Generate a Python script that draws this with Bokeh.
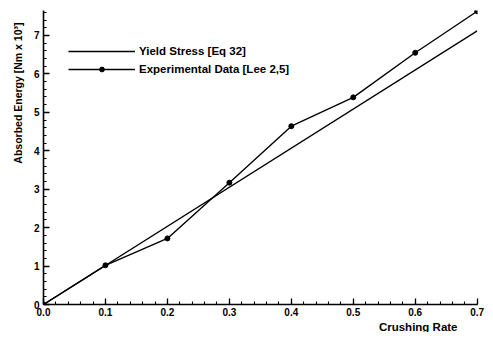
from bokeh.plotting import figure
from bokeh.models import SingleIntervalTicker, Title, Legend, LegendItem
from bokeh.embed import file_html
from bokeh.resources import INLINE

crush_rate = [0.0, 0.1, 0.2, 0.3, 0.4, 0.5, 0.6, 0.7]
exp_energy = [0.0, 1.02, 1.72, 3.17, 4.64, 5.39, 6.55, 7.63]
yield_rate = [0.0, 0.7]
yield_energy = [0.0, 7.12]

FONT = "Liberation Sans"

p = figure(width=485, height=332, output_backend="svg", toolbar_location=None,
           x_range=(0, 0.7005), y_range=(0, 7.65),
           min_border_left=43, min_border_right=8, min_border_top=10, min_border_bottom=24)
p.outline_line_color = None
p.xgrid.visible = False
p.ygrid.visible = False

r_yield = p.line(yield_rate, yield_energy, line_color="black", line_width=1.3)
r_exp = p.line(crush_rate, exp_energy, line_color="black", line_width=1.4)
r_pts = p.scatter(crush_rate, exp_energy, size=5, fill_color="black", line_color="black")

for ax in (p.xaxis[0], p.yaxis[0]):
    ax.axis_line_width = 1.6
    ax.axis_line_color = "black"
    ax.major_tick_in = 6
    ax.major_tick_out = 0
    ax.minor_tick_in = 3
    ax.minor_tick_out = 0
    ax.major_tick_line_color = "black"
    ax.minor_tick_line_color = "black"
    ax.major_tick_line_width = 1.3
    ax.minor_tick_line_width = 1.1
    ax.major_label_text_font = FONT
    ax.major_label_text_font_style = "bold"
    ax.major_label_text_font_size = "10px"
    ax.major_label_text_color = "black"

p.xaxis.ticker = SingleIntervalTicker(interval=0.1, num_minor_ticks=5)
p.yaxis.ticker = SingleIntervalTicker(interval=1, num_minor_ticks=5)
p.xaxis.major_label_overrides = {i / 10: "%.1f" % (i / 10) for i in range(8)}
p.xaxis.major_label_standoff = 3
p.yaxis.major_label_standoff = 4

p.add_layout(Title(text="Crushing Rate", align="right", offset=20, standoff=0,
                   text_font=FONT, text_font_style="bold", text_font_size="11.5px",
                   text_color="black"), "below")
p.add_layout(Title(text="Absorbed Energy [Nm x 10³]", align="right", offset=12, standoff=14,
                   text_font=FONT, text_font_style="bold", text_font_size="10.5px",
                   text_color="black"), "left")

legend = Legend(items=[LegendItem(label="Yield Stress [Eq 32]", renderers=[r_yield]),
                       LegendItem(label="Experimental Data [Lee 2,5]", renderers=[r_exp, r_pts])],
                location=(25, 229), glyph_width=67, glyph_height=12, spacing=6,
                padding=0, margin=0, label_standoff=4, border_line_color=None,
                background_fill_alpha=0, label_text_font=FONT, label_text_font_style="bold",
                label_text_font_size="11.5px", label_height=12, label_text_color="black")
p.add_layout(legend)

open("out.html", "w").write(file_html(p, INLINE))
